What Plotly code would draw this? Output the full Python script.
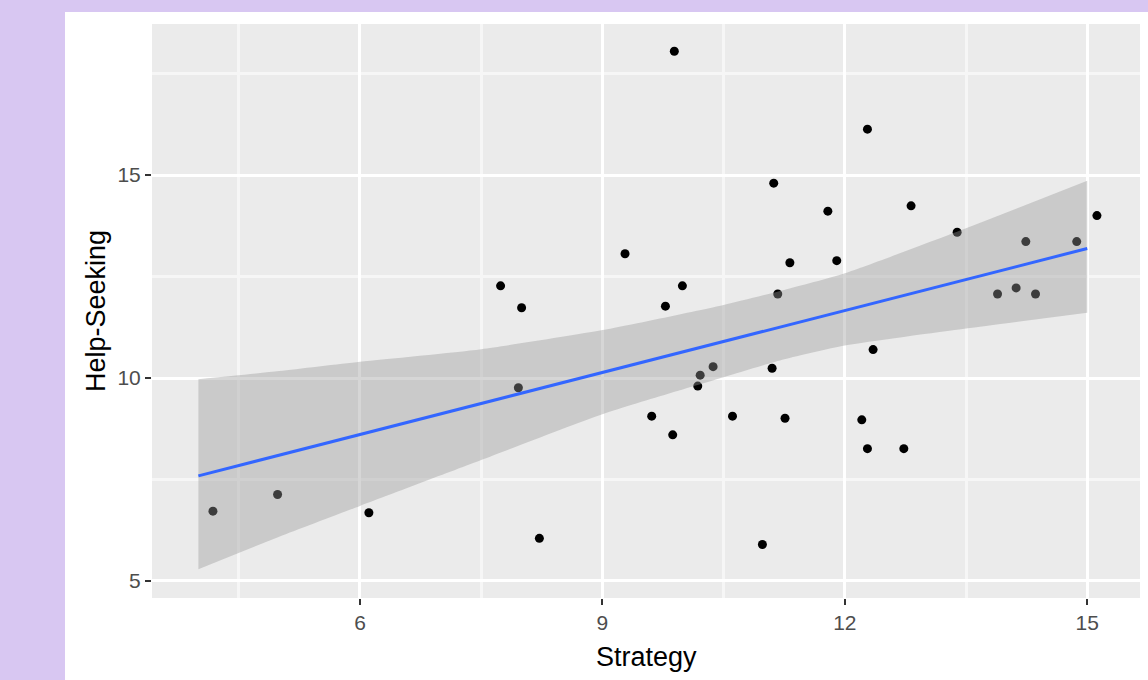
import plotly.graph_objects as go

# ---- data ----
strategy = [4.18, 4.98, 6.11, 7.74, 8.00, 7.96, 8.22, 9.28, 9.61, 9.78,
            9.87, 9.89, 9.99, 10.18, 10.21, 10.37, 10.61, 10.98, 11.10, 11.12,
            11.17, 11.26, 11.32, 11.79, 11.90, 12.21, 12.28, 12.28, 12.35, 12.73,
            12.82, 13.39, 13.89, 14.12, 14.24, 14.36, 14.87, 15.12]
help_seeking = [6.72, 7.13, 6.68, 12.27, 11.73, 9.76, 6.05, 13.06, 9.06, 11.77,
                8.60, 18.05, 12.27, 9.80, 10.07, 10.28, 9.06, 5.90, 10.24, 14.80,
                12.07, 9.01, 12.84, 14.11, 12.89, 8.97, 8.26, 16.13, 10.70, 8.26,
                14.24, 13.59, 12.07, 12.22, 13.36, 12.07, 13.36, 14.00]

# smoothing line (lm) and its confidence band
smooth_x = [4.0, 5.0, 6.0, 7.5, 9.0, 10.5, 11.25, 12.0, 13.5, 15.0]
smooth_fit = [7.59, 8.10, 8.61, 9.37, 10.14, 10.90, 11.28, 11.66, 12.43, 13.19]
smooth_lo = [5.29, 6.09, 6.85, 7.98, 9.11, 10.02, 10.46, 10.80, 11.22, 11.61]
smooth_hi = [9.97, 10.17, 10.40, 10.71, 11.18, 11.80, 12.17, 12.58, 13.69, 14.86]

x_ticks = [6, 9, 12, 15]
y_ticks = [5, 10, 15]

# ---- layout geometry (pixels) ----
W, H = 1148, 680
ML, MR, MT, MB = 152, 8, 24, 82
PW, PH = W - ML - MR, H - MT - MB
LAV = "#D8C7F2"
FONT = "Liberation Sans, Arial, sans-serif"

fig = go.Figure()

fig.add_trace(go.Scatter(
    x=strategy, y=help_seeking, mode="markers",
    marker=dict(color="black", size=9, line=dict(width=0)),
    showlegend=False, hoverinfo="x+y"))

# confidence band: lower edge, then upper edge filled down to it
fig.add_trace(go.Scatter(
    x=smooth_x, y=smooth_lo, mode="lines",
    line=dict(width=0, shape="spline", smoothing=0.6, color="rgba(0,0,0,0)"),
    showlegend=False, hoverinfo="skip"))
fig.add_trace(go.Scatter(
    x=smooth_x, y=smooth_hi, mode="lines", fill="tonexty",
    fillcolor="rgba(153,153,153,0.4)",
    line=dict(width=0, shape="spline", smoothing=0.6, color="rgba(0,0,0,0)"),
    showlegend=False, hoverinfo="skip"))

fig.add_trace(go.Scatter(
    x=smooth_x, y=smooth_fit, mode="lines",
    line=dict(color="#3366FF", width=3), showlegend=False))

def px_x(p):
    return (p - ML) / PW

def px_y(p):
    return 1 - (p - MT) / PH

shapes = [
    # left lavender strip
    dict(type="rect", xref="paper", yref="paper", x0=px_x(0), x1=px_x(65),
         y0=px_y(H), y1=px_y(0), fillcolor=LAV, line=dict(width=0), layer="below"),
    # top lavender strip
    dict(type="rect", xref="paper", yref="paper", x0=px_x(0), x1=px_x(W),
         y0=px_y(12), y1=px_y(0), fillcolor=LAV, line=dict(width=0), layer="below"),
]

annotations = [
    dict(text="Strategy", xref="paper", yref="paper", x=0.5, y=px_y(657),
         xanchor="center", yanchor="middle", showarrow=False,
         font=dict(family=FONT, size=27, color="black")),
    dict(text="Help-Seeking", xref="paper", yref="paper", x=px_x(96), y=0.5,
         xanchor="center", yanchor="middle", showarrow=False, textangle=-90,
         font=dict(family=FONT, size=27, color="black")),
]

fig.update_layout(
    width=W, height=H,
    margin=dict(l=ML, r=MR, t=MT, b=MB, pad=0),
    paper_bgcolor="white", plot_bgcolor="#EBEBEB",
    shapes=shapes, annotations=annotations,
    font=dict(family=FONT),
)

fig.update_xaxes(
    range=[3.426, 15.653], tickvals=x_ticks, ticktext=[str(v) for v in x_ticks],
    showgrid=True, gridcolor="white", gridwidth=3,
    minor=dict(tickvals=[4.5, 7.5, 10.5, 13.5], showgrid=True,
               gridcolor="#F6F6F6", gridwidth=2.5, ticks=""),
    ticks="outside", ticklen=6, tickwidth=1.5, tickcolor="#333333",
    tickfont=dict(family=FONT, size=21, color="#4D4D4D"),
    zeroline=False, showline=False)

fig.update_yaxes(
    range=[4.581, 18.72], tickvals=y_ticks, ticktext=[str(v) for v in y_ticks],
    showgrid=True, gridcolor="white", gridwidth=3,
    minor=dict(tickvals=[7.5, 12.5, 17.5], showgrid=True,
               gridcolor="#F6F6F6", gridwidth=2.5, ticks=""),
    ticks="outside", ticklen=6, tickwidth=1.5, tickcolor="#333333",
    tickfont=dict(family=FONT, size=21, color="#4D4D4D"),
    zeroline=False, showline=False)

fig.write_html("out.html",
               config={"displayModeBar": False},
               post_script="document.body.style.margin='0';"
                           "document.body.style.background='" + LAV + "';")
